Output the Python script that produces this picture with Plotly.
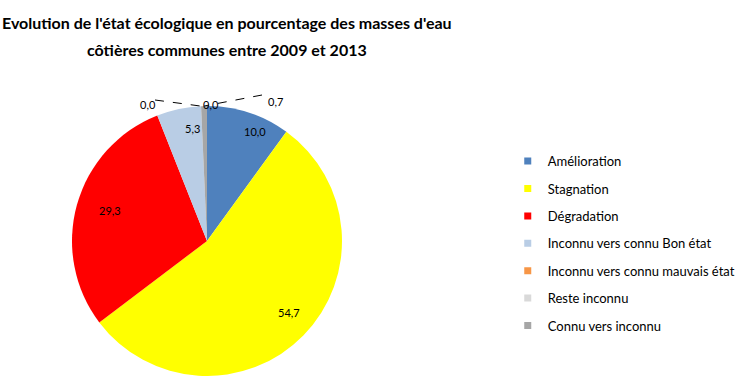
import math
import plotly.graph_objects as go

categories = ["Amélioration", "Stagnation", "Dégradation", "Inconnu vers connu Bon état",
              "Inconnu vers connu mauvais état", "Reste inconnu", "Connu vers inconnu"]
values = [10.0, 54.7, 29.3, 5.3, 0.0, 0.0, 0.7]
colors = ["#4F81BD", "#FFFF00", "#FF0000", "#B9CDE5", "#F79646", "#D9D9D9", "#A6A6A6"]
title_lines = ["Evolution de l'état écologique en pourcentage des masses d'eau",
               "côtières communes entre 2009 et 2013"]

W, H = 750, 376
# pie geometry (pixels)
cx, cy, R = 207, 241, 135
dom_x = [(cx - R) / W, (cx + R) / W]
dom_y = [max(0.0, (H - cy - R) / H), min(1.0, (H - cy + R) / H)]

# label placement styles (radial fraction for inside labels, pixel positions for callouts)
inside_frac = 0.85
callout_xy = [(138, 96), (201, 96), (275, 93)]
callout_line_start = [(155, 100), None, (262, 95)]

fig = go.Figure()
fig.add_trace(go.Pie(
    labels=categories, values=values, sort=False, direction="clockwise", rotation=0,
    marker=dict(colors=colors, line=dict(width=0)),
    textinfo="none", showlegend=False, hoverinfo="label+value",
    domain=dict(x=dom_x, y=dom_y),
))
for c, col in zip(categories, colors):
    fig.add_trace(go.Scatter(
        x=[None], y=[None], mode="markers", name=c, legendgroup=c,
        marker=dict(symbol="square", size=7, color=col),
    ))

def fmt(v):
    return f"{v:.1f}".replace(".", ",")

label_font = dict(family="Lato", size=11, color="#000000")
annotations = []
shapes = []
total = sum(values)
cum = 0.0
ci = 0
for i, v in enumerate(values):
    mid = (cum + v / 2) / total * 2 * math.pi
    cum += v
    if v >= 1:
        px = cx + inside_frac * R * math.sin(mid)
        py = cy - inside_frac * R * math.cos(mid)
        annotations.append(dict(x=px / W, y=1 - py / H, xref="paper", yref="paper",
                                text=fmt(v), showarrow=False, font=label_font))
    else:
        lx, ly = callout_xy[ci]
        start = callout_line_start[ci]
        ci += 1
        ex = cx + R * math.sin(mid)
        ey = cy - R * math.cos(mid)
        annotations.append(dict(x=lx / W, y=1 - ly / H, xref="paper", yref="paper",
                                text=fmt(v), showarrow=False, font=label_font))
        if start is not None:
            sx, sy = start
            shapes.append(dict(type="line", xref="paper", yref="paper",
                               x0=sx / W, y0=1 - sy / H, x1=ex / W, y1=1 - ey / H,
                               line=dict(color="#000000", width=1, dash="dash")))

for k, t in enumerate(title_lines):
    annotations.append(dict(x=227 / W, y=1 - (22 + 27 * k) / H, xref="paper", yref="paper",
                            text=f"<b>{t}</b>", showarrow=False, xanchor="center", yanchor="middle",
                            font=dict(family="Lato", size=16, color="#000000")))

fig.update_layout(
    width=W, height=H,
    margin=dict(l=0, r=0, t=0, b=0),
    paper_bgcolor="white", plot_bgcolor="white",
    xaxis=dict(visible=False), yaxis=dict(visible=False),
    annotations=annotations, shapes=shapes,
    legend=dict(x=0.677, y=0.352, xanchor="left", yanchor="middle",
                font=dict(family="Lato", size=13, color="#000000"),
                traceorder="grouped", tracegroupgap=7.5, itemwidth=30),
)
fig.write_html("out.html")
